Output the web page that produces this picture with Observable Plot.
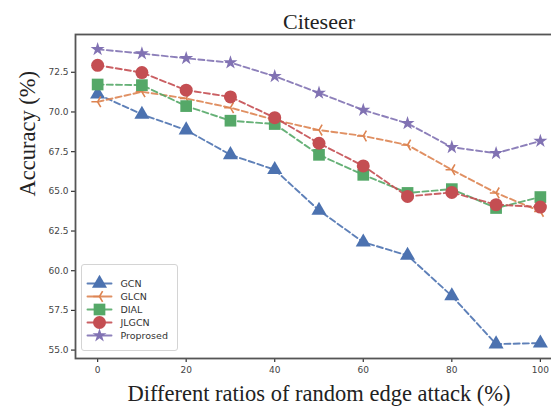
<!DOCTYPE html>
<html>
<head>
<meta charset="utf-8">
<script src="https://cdn.jsdelivr.net/npm/d3@7"></script>
<script src="https://cdn.jsdelivr.net/npm/@observablehq/plot@0.6"></script>
<style>
  html, body { margin: 0; padding: 0; background: #fff; }
  #wrap { position: relative; width: 551px; height: 406px; overflow: hidden; }
  #legend {
    position: absolute; left: 81px; top: 264px; width: 97px; height: 87px;
    border: 1px solid #d4d4d4; border-radius: 3px; background: rgba(255,255,255,0.85);
    box-sizing: border-box;
  }
  #legend svg { position: absolute; left: 0; top: 0; }
</style>
</head>
<body>
<div id="wrap"><div id="legend"></div></div>
<script>
// Attack ratio (%) on the x axis
const ratios = [0, 10, 20, 30, 40, 50, 60, 70, 80, 90, 100];

// Accuracy (%) per method on Citeseer
const gcn      = [71.12, 69.85, 68.86, 67.30, 66.36, 63.80, 61.80, 60.96, 58.41, 55.38, 55.44];
const glcn     = [70.64, 71.27, 70.85, 70.27, 69.50, 68.86, 68.49, 67.92, 66.36, 64.90, 63.74];
const dial     = [71.73, 71.69, 70.37, 69.45, 69.24, 67.30, 66.04, 64.90, 65.14, 63.95, 64.64];
const jlgcn    = [72.94, 72.48, 71.37, 70.95, 69.64, 68.03, 66.60, 64.68, 64.93, 64.16, 64.01];
const proposed = [73.95, 73.68, 73.38, 73.11, 72.25, 71.20, 70.12, 69.28, 67.78, 67.40, 68.17];

const methodNames = ["GCN", "GLCN", "DIAL", "JLGCN", "Proprosed"];
const xTicks = [0, 20, 40, 60, 80, 100];
const yTicks = [55, 57.5, 60, 62.5, 65, 67.5, 70, 72.5];

// three-armed marker: one arm left, two arms up-right / down-right
const triLeft = {
  draw(context, size) {
    const r = Math.sqrt(size / Math.PI) * 1.25;
    const c = 0.5 * r, s = 0.866 * r;
    context.moveTo(0, 0); context.lineTo(-r, 0);
    context.moveTo(0, 0); context.lineTo(c, -s);
    context.moveTo(0, 0); context.lineTo(c, s);
  }
};

const series = [
  {name: methodNames[0], values: gcn,      color: "#4C72B0", symbol: "triangle", r: 5.6},
  {name: methodNames[1], values: glcn,     color: "#DD8452", symbol: triLeft,    r: 5.0, stroked: true},
  {name: methodNames[2], values: dial,     color: "#55A868", symbol: "square",   r: 6.6},
  {name: methodNames[3], values: jlgcn,    color: "#C44E52", symbol: "circle",   r: 6.5},
  {name: methodNames[4], values: proposed, color: "#8172B3", symbol: "star",     r: 4.4}
];

const rows = series.map(s => ratios.map((x, i) => ({x, y: s.values[i], name: s.name})));

const serif = "'Liberation Serif', 'Times New Roman', serif";

function dotFor(s, data, opts) {
  return s.stroked
    ? Plot.dot(data, {...opts, symbol: s.symbol, r: s.r, stroke: s.color, strokeWidth: 1.6, fill: "none"})
    : Plot.dot(data, {...opts, symbol: s.symbol, r: s.r, fill: s.color, stroke: "none"});
}

const chart = Plot.plot({
  width: 565,
  height: 406,
  marginLeft: 75,
  marginRight: 3,
  marginTop: 34,
  marginBottom: 48,
  style: {background: "transparent", fontFamily: "'DejaVu Sans', sans-serif", maxWidth: "none"},
  x: {domain: [-5, 105]},
  y: {domain: [54.47, 74.88]},
  marks: [
    Plot.axisX({ticks: xTicks, tickSize: 4, tickPadding: 4, fontSize: 9,
      color: "#444", stroke: "#333", label: null, strokeWidth: 1.2}),
    Plot.axisY({ticks: yTicks, tickSize: 4, tickPadding: 3, fontSize: 9,
      tickFormat: d3.format(".1f"), color: "#444", stroke: "#333", label: null, strokeWidth: 1.2}),
    ...series.flatMap((s, k) => [
      Plot.line(rows[k], {x: "x", y: "y", stroke: s.color, strokeWidth: 1.9,
        strokeDasharray: "6,3.2", strokeOpacity: 0.9}),
      dotFor(s, rows[k], {x: "x", y: "y"})
    ]),
    Plot.frame({stroke: "#555", strokeWidth: 1.8}),
    Plot.text(["Citeseer"], {frameAnchor: "top", lineAnchor: "middle", dy: -13, fontSize: 22,
      fontFamily: serif, fill: "#222"}),
    Plot.text(["Different ratios of random edge attack (%)"], {frameAnchor: "bottom",
      lineAnchor: "middle", dy: 35, fontSize: 22.5, fontFamily: serif, fill: "#222"}),
    Plot.text(["Accuracy (%)"], {frameAnchor: "left", lineAnchor: "middle", dx: -48, rotate: -90,
      fontSize: 22.5, fontFamily: serif, fill: "#222"})
  ]
});
document.getElementById("wrap").prepend(chart);

// legend: short handle with the marker, then the method name
const handleRows = series.flatMap(s => [0, 1].map(t => ({t, name: s.name})));
const legend = Plot.plot({
  width: 97,
  height: 87,
  margin: 0,
  style: {background: "transparent", fontFamily: "'DejaVu Sans', sans-serif", maxWidth: "none"},
  x: {domain: [0, 1], range: [5, 29], axis: null},
  y: {domain: methodNames, range: [10, 77], type: "point", axis: null},
  marks: [
    ...series.flatMap(s => [
      Plot.line(handleRows.filter(d => d.name === s.name),
        {x: "t", y: "name", stroke: s.color, strokeWidth: 1.9, strokeOpacity: 0.9}),
      dotFor(s, [s.name], {x: () => 0.5, y: d => d})
    ]),
    Plot.text(methodNames, {x: () => 1, y: d => d, text: d => d, dx: 9,
      textAnchor: "start", fontSize: 9.5, fill: "#333"})
  ]
});
document.getElementById("legend").appendChild(legend);
</script>
</body>
</html>
